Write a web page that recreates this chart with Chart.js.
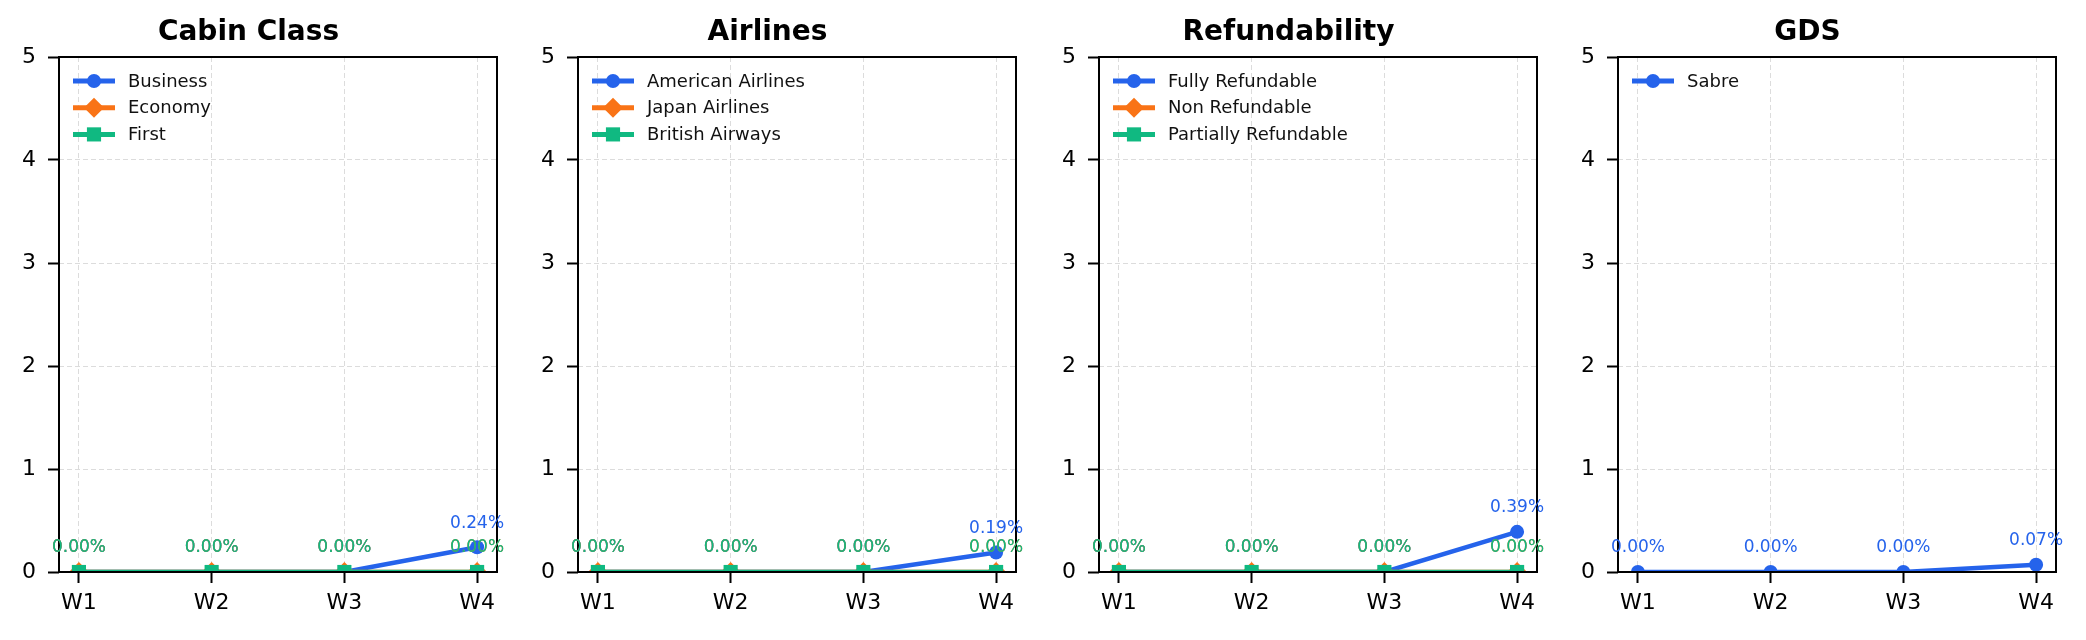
<!DOCTYPE html>
<html>
<head>
<meta charset="utf-8">
<script src="https://cdn.jsdelivr.net/npm/chart.js@4.4.1/dist/chart.umd.min.js"></script>
<style>
  html, body { margin: 0; padding: 0; background: #fff; }
  body { width: 2086px; height: 640px; position: relative; overflow: hidden; }
  canvas { position: absolute; top: 0; }
</style>
</head>
<body>
<canvas id="cabinChart" width="516" height="640" style="left:0px"></canvas>
<canvas id="airlineChart" width="516" height="640" style="left:519px"></canvas>
<canvas id="refundChart" width="516" height="640" style="left:1040px"></canvas>
<canvas id="gdsChart" width="516" height="640" style="left:1559px"></canvas>
<script>
// Weekly shares (%)
const weeks = ['W1', 'W2', 'W3', 'W4'];
const yTicks = [0, 1, 2, 3, 4, 5];

const cabinLabels = ['Business', 'Economy', 'First'];
const businessPct = [0, 0, 0, 0.24];
const economyPct = [0, 0, 0, 0];
const firstPct = [0, 0, 0, 0];

const airlineLabels = ['American Airlines', 'Japan Airlines', 'British Airways'];
const americanPct = [0, 0, 0, 0.19];
const japanPct = [0, 0, 0, 0];
const britishPct = [0, 0, 0, 0];

const refundLabels = ['Fully Refundable', 'Non Refundable', 'Partially Refundable'];
const fullyRefPct = [0, 0, 0, 0.39];
const nonRefPct = [0, 0, 0, 0];
const partialRefPct = [0, 0, 0, 0];

const gdsLabels = ['Sabre'];
const sabrePct = [0, 0, 0, 0.07];

const seriesColors = ['#2563eb', '#f97316', '#10b981'];
const pointStyles = ['circle', 'rectRot', 'rect'];
const pointSizes = [7, 10, 10];

const FONT = "'DejaVu Sans', sans-serif";

// matplotlib-style frame, point labels and legend
const decorPlugin = {
    id: 'decor',
    afterDatasetsDraw(chart) {
        const { ctx, chartArea: a } = chart;
        ctx.save();
        ctx.strokeStyle = '#000';
        ctx.lineWidth = 2;
        ctx.strokeRect(a.left, a.top, a.right - a.left, a.bottom - a.top);

        // value labels
        ctx.font = `17px ${FONT}`;
        ctx.textAlign = 'center';
        ctx.textBaseline = 'middle';
        chart.data.datasets.forEach((ds, i) => {
            const meta = chart.getDatasetMeta(i);
            ctx.fillStyle = ds.borderColor;
            meta.data.forEach((pt, j) => {
                ctx.fillText(ds.data[j].y.toFixed(2) + '%', pt.x, pt.y - 24);
            });
        });

        // legend
        chart.data.datasets.forEach((ds, i) => {
            const y = a.top + 24 + i * 26.7;
            const x0 = a.left + 14;
            ctx.strokeStyle = ds.borderColor;
            ctx.lineWidth = 5;
            ctx.beginPath();
            ctx.moveTo(x0, y);
            ctx.lineTo(x0 + 42, y);
            ctx.stroke();
            ctx.fillStyle = ds.borderColor;
            Chart.helpers.drawPoint(ctx, {
                pointStyle: ds.pointStyle, radius: ds.pointRadius, rotation: 0, borderWidth: 0
            }, x0 + 21, y);
            ctx.fillStyle = '#111';
            ctx.font = `18px ${FONT}`;
            ctx.textAlign = 'left';
            ctx.fillText(ds.label, x0 + 55, y + 1);
        });
        ctx.restore();
    }
};

// later series are drawn on top, like matplotlib
const makeDatasets = (labels, series) => labels.map((label, i) => ({
    label,
    data: series[i].map((v, j) => ({ x: j, y: v })),
    order: -i,
    borderColor: seriesColors[i],
    backgroundColor: seriesColors[i],
    borderWidth: 4.5,
    pointStyle: pointStyles[i],
    pointRadius: pointSizes[i],
    pointBorderWidth: 0,
    pointBackgroundColor: seriesColors[i],
    clip: 0,
    tension: 0
}));

const initPanel = (id, title, labels, series) => {
    const ctx = document.getElementById(id).getContext('2d');
    return new Chart(ctx, {
        type: 'line',
        data: { datasets: makeDatasets(labels, series) },
        options: {
            responsive: false,
            animation: false,
            devicePixelRatio: 1,
            layout: { padding: { left: 0, right: 19, top: 0, bottom: 0 } },
            scales: {
                x: {
                    type: 'linear',
                    min: -0.15,
                    max: 3.15,
                    afterBuildTicks: s => { s.ticks = weeks.map((w, i) => ({ value: i })); },
                    afterFit: s => { s.height = 68; },
                    ticks: {
                        callback: v => weeks[v],
                        color: '#000',
                        padding: 7,
                        maxRotation: 0,
                        font: { family: FONT, size: 22 }
                    },
                    grid: {
                        color: '#dcdcdc',
                        lineWidth: 1,
                        tickLength: 11,
                        tickColor: '#000',
                        tickWidth: 2,
                        tickBorderDash: []
                    },
                    border: { display: false, dash: [5, 3] }
                },
                y: {
                    min: 0,
                    max: 5,
                    afterBuildTicks: s => { s.ticks = yTicks.map(v => ({ value: v })); },
                    afterFit: s => { s.width = 59; },
                    ticks: {
                        color: '#000',
                        padding: 12,
                        font: { family: FONT, size: 22 }
                    },
                    grid: {
                        color: '#dcdcdc',
                        lineWidth: 1,
                        tickLength: 11,
                        tickColor: '#000',
                        tickWidth: 2,
                        tickBorderDash: []
                    },
                    border: { display: false, dash: [5, 3] }
                }
            },
            plugins: {
                legend: { display: false },
                tooltip: { enabled: false },
                title: {
                    display: true,
                    text: title,
                    color: '#000',
                    font: { family: FONT, size: 28, weight: 'bold', lineHeight: 1.2 },
                    padding: { top: 16, bottom: 7.4 }
                }
            }
        },
        plugins: [decorPlugin]
    });
};

initPanel('cabinChart', 'Cabin Class', cabinLabels, [businessPct, economyPct, firstPct]);
initPanel('airlineChart', 'Airlines', airlineLabels, [americanPct, japanPct, britishPct]);
initPanel('refundChart', 'Refundability', refundLabels, [fullyRefPct, nonRefPct, partialRefPct]);
initPanel('gdsChart', 'GDS', gdsLabels, [sabrePct]);
</script>
</body>
</html>
